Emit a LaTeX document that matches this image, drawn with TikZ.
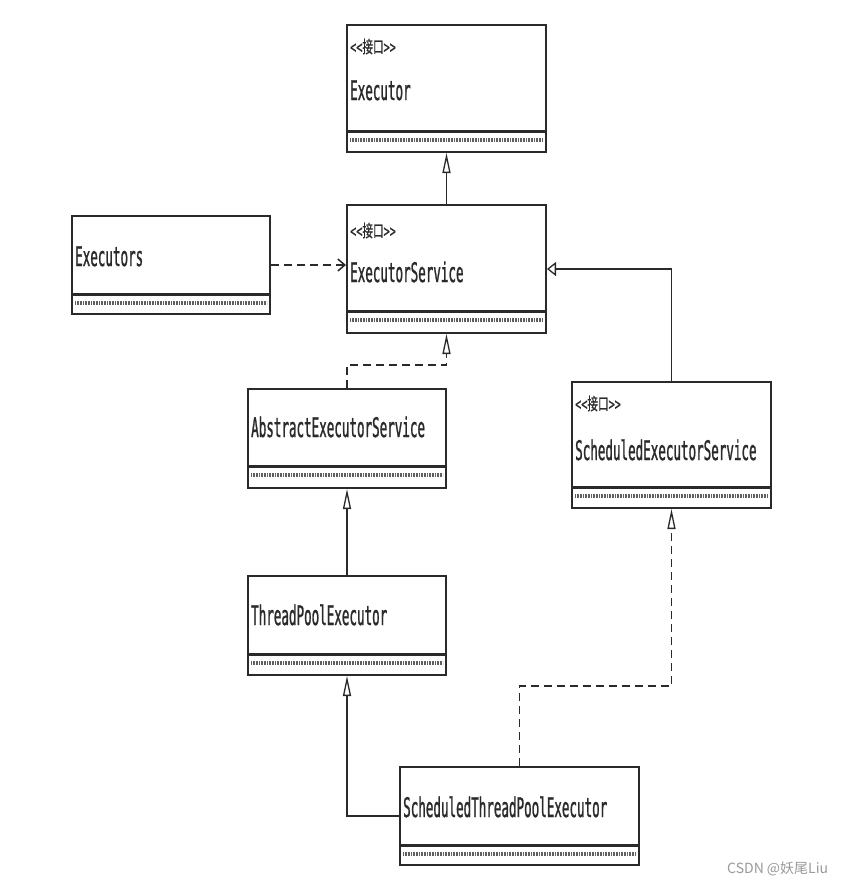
\documentclass[tikz,border=0pt]{standalone}
\usepackage{fontspec}
\usetikzlibrary{arrows.meta}
\newfontfamily\umlfont[FakeStretch=0.465, FakeBold=0.9]{DejaVu Sans Mono}
\newfontfamily\stereofont[FakeStretch=0.6, FakeBold=0.6]{DejaVu Sans Mono}
\newfontfamily\cjkst[FakeStretch=0.62, FakeBold=0.6]{Noto Sans CJK SC}
\newfontfamily\cjkwm{Noto Sans CJK SC}
\definecolor{ink}{HTML}{2A2A2A}
\definecolor{wm}{HTML}{9A9A9A}
\tikzset{
  umlbox/.style={draw=ink, line width=2pt, inner sep=0pt, anchor=north west, fill=white},
  sepline/.style={draw=ink, line width=3pt},
  dotline/.style={draw=ink!75, line width=3.5pt, dash pattern=on 0.8pt off 0.8pt},
  nametext/.style={anchor=base west, inner sep=0pt, text=ink, font=\umlfont\fontsize{27}{29}\selectfont},
  stereotext/.style={anchor=base west, inner sep=0pt, text=ink, font=\stereofont\fontsize{17}{19}\selectfont},
  conn/.style={draw=ink, line width=1.5pt},
  dconn/.style={conn, dash pattern=on 8pt off 5pt},
  vtri/.style={-{Triangle[open, length=20pt, width=8pt, line width=1.3pt]}},
  htri/.style={-{Triangle[open, length=9pt, width=14pt, line width=1.3pt]}},
  barb/.style={-{Straight Barb[length=7pt, width=12pt, line width=1.5pt]}}
}
\newcommand\umlrect[6]{% name, x, y, W, H, S
  \node[umlbox, minimum width=#4pt, minimum height=#5pt] (#1) at (#2,#3) {};
  \draw[sepline] ([yshift=-#6pt]#1.north west) -- ([yshift=-#6pt]#1.north east);
  \draw[dotline] ([xshift=4pt,yshift=-#6pt-9pt]#1.north west) -- ([xshift=-4pt,yshift=-#6pt-9pt]#1.north east);
}
\begin{document}
\begin{tikzpicture}[x=1pt, y=-1pt]
\useasboundingbox[fill=white] (0,0) rectangle (843,884);

\umlrect{exec}{346}{24}{199}{127}{107}
\umlrect{es}{346}{204}{199}{128}{107}
\umlrect{execs}{71}{215}{198}{98}{79}
\umlrect{abs}{247}{388}{198}{99}{78}
\umlrect{ses}{571}{381}{199}{126}{106}
\umlrect{tpe}{247}{575}{198}{99}{79}
\umlrect{stpe}{399}{766}{239}{98}{79}

\node[stereotext] (exec-s) at ([xshift=4pt,yshift=-29pt]exec.north west) {<<{\cjkst 接口}>>};
\node[nametext] (exec-n) at ([xshift=4pt,yshift=-76pt]exec.north west) {Executor};
\node[stereotext] (es-s) at ([xshift=4pt,yshift=-33pt]es.north west) {<<{\cjkst 接口}>>};
\node[nametext] (es-n) at ([xshift=4pt,yshift=-78pt]es.north west) {ExecutorService};
\node[nametext] (execs-n) at ([xshift=4pt,yshift=-51pt]execs.north west) {Executors};
\node[nametext] (abs-n) at ([xshift=4pt,yshift=-49pt]abs.north west) {AbstractExecutorService};
\node[stereotext] (ses-s) at ([xshift=4pt,yshift=-29pt]ses.north west) {<<{\cjkst 接口}>>};
\node[nametext] (ses-n) at ([xshift=4pt,yshift=-79pt]ses.north west) {ScheduledExecutorService};
\node[nametext] (tpe-n) at ([xshift=4pt,yshift=-50pt]tpe.north west) {ThreadPoolExecutor};
\node[nametext] (stpe-n) at ([xshift=4pt,yshift=-51pt]stpe.north west) {ScheduledThreadPoolExecutor};

% connectors
\draw[conn, vtri] (es.north) -- (exec.south);
\draw[dconn, barb] (execs.east) -- (execs.east -| es.west);
\draw[dconn, vtri] (abs.north) -- ++(0,-23) -| (es.south);
\draw[conn, htri] (ses.north) |- (es.east);
\draw[conn, vtri] (tpe.north) -- (abs.south);
\draw[conn, vtri] (stpe.west) -| (tpe.south);
\draw[dconn, vtri] (stpe.north) -- ++(0,-80) -| (ses.south);

\node[anchor=base west, inner sep=0pt, text=wm, font=\cjkwm\fontsize{14}{16}\selectfont] (wmark) at (727,873) {CSDN @妖尾Liu};
\end{tikzpicture}
\end{document}
